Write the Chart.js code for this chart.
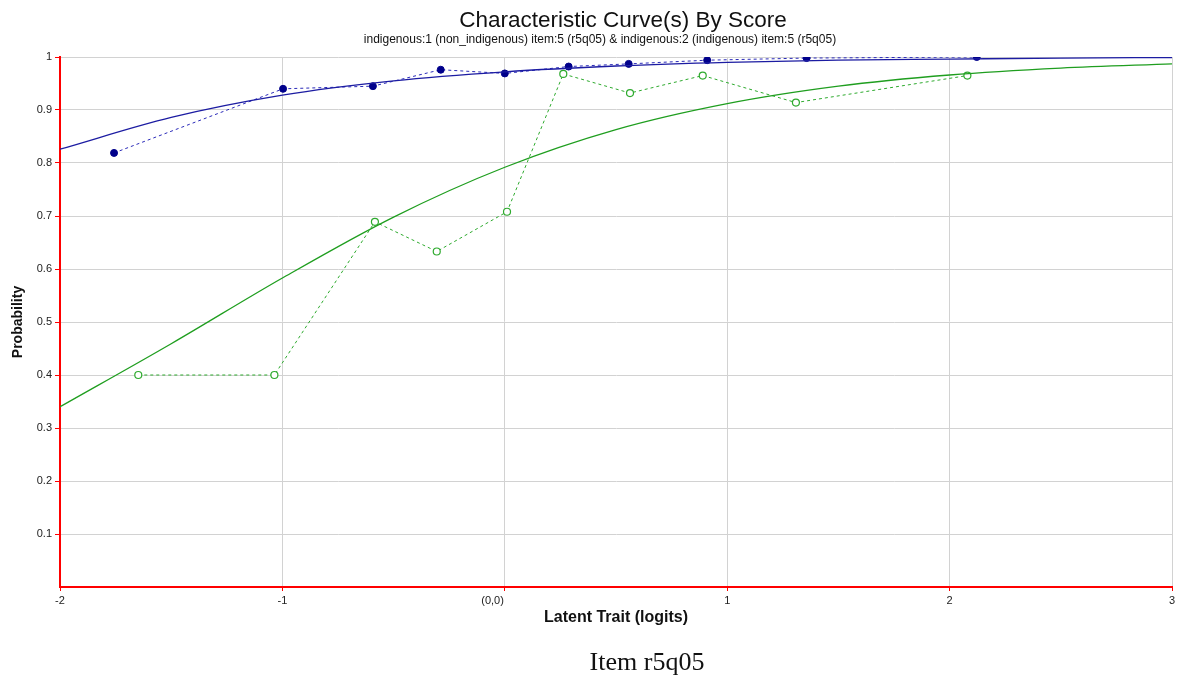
<!DOCTYPE html>
<html>
<head>
<meta charset="utf-8">
<script src="https://cdn.jsdelivr.net/npm/chart.js@4.4.1/dist/chart.umd.min.js"></script>
<style>
  html, body { margin: 0; padding: 0; background: #ffffff; }
  #wrap { position: relative; width: 1179px; height: 679px; }
  .txt { position: absolute; width: 1000px; text-align: center; white-space: nowrap; color: #111; }
  #title { left: 123px; top: 8px; line-height: 24px; font-family: "Liberation Sans", Arial, sans-serif; font-size: 22.5px; }
  #subtitle { left: 100px; top: 32px; line-height: 14px; font-family: "Liberation Sans", Arial, sans-serif; font-size: 12px; }
  #caption { left: 147px; top: 647px; font-family: "Liberation Serif", "DejaVu Serif", serif; font-size: 26px; }
</style>
</head>
<body>
<div id="wrap">
  <canvas id="c" width="1179" height="679"></canvas>
  <div class="txt" id="title">Characteristic Curve(s) By Score</div>
  <div class="txt" id="subtitle">indigenous:1 (non_indigenous) item:5 (r5q05) &amp; indigenous:2 (indigenous) item:5 (r5q05)</div>
  <div class="txt" id="caption">Item r5q05</div>
</div>
<script>
// ---- data ----
const xTicks = [-2, -1, 0, 1, 2, 3];
const yTicks = [0.1, 0.2, 0.3, 0.4, 0.5, 0.6, 0.7, 0.8, 0.9, 1];

// model curve samples (logits vs probability)
const curveX = [-2, -1.5, -1, -0.5, 0, 0.5, 1, 1.5, 2, 2.5, 3];
const nonIndigCurve = [0.826, 0.886, 0.928, 0.955, 0.972, 0.983, 0.990, 0.994, 0.996, 0.998, 0.999];
const indigCurve    = [0.340, 0.459, 0.583, 0.698, 0.792, 0.863, 0.912, 0.945, 0.966, 0.979, 0.987];

// observed class-interval means
const nonIndigObsX = [-1.757, -0.997, -0.593, -0.288, 0.000, 0.287, 0.557, 0.910, 1.357, 2.122];
const nonIndigObsY = [0.819, 0.940, 0.945, 0.976, 0.969, 0.982, 0.987, 0.994, 0.998, 1.000];
const indigObsX = [-1.648, -1.036, -0.584, -0.306, 0.010, 0.263, 0.563, 0.890, 1.309, 2.080];
const indigObsY = [0.400, 0.400, 0.689, 0.633, 0.708, 0.968, 0.932, 0.965, 0.914, 0.965];

const pts = (xs, ys) => xs.map((x, i) => ({ x: x, y: ys[i] }));

const BLUE = '#1c1ca2';
const BLUE_PT = '#00008b';
const GREEN = '#1f9e1f';
const GREEN_DASH = '#2eaa2e';

new Chart(document.getElementById('c'), {
  type: 'scatter',
  data: {
    datasets: [
      { label: 'indigenous model', data: pts(curveX, indigCurve), showLine: true,
        borderColor: GREEN, borderWidth: 1.3, pointRadius: 0, cubicInterpolationMode: 'monotone', fill: false },
      { label: 'non_indigenous model', data: pts(curveX, nonIndigCurve), showLine: true,
        borderColor: BLUE, borderWidth: 1.3, pointRadius: 0, cubicInterpolationMode: 'monotone', fill: false },
      { label: 'indigenous observed', data: pts(indigObsX, indigObsY), showLine: true,
        borderColor: GREEN_DASH, borderWidth: 1, borderDash: [3, 3], tension: 0,
        pointRadius: 3.5, pointBackgroundColor: '#ffffff', pointBorderColor: GREEN_DASH, pointBorderWidth: 1.2 },
      { label: 'non_indigenous observed', data: pts(nonIndigObsX, nonIndigObsY), showLine: true,
        borderColor: '#2a2ab8', borderWidth: 1, borderDash: [3, 3], tension: 0,
        pointRadius: 3.5, pointBackgroundColor: BLUE_PT, pointBorderColor: BLUE_PT, pointBorderWidth: 1 }
    ]
  },
  options: {
    responsive: false,
    animation: false,
    devicePixelRatio: 1,
    layout: { padding: { left: 0, right: 7, top: 57, bottom: 52 } },
    plugins: {
      legend: { display: false },
      tooltip: { enabled: false }
    },
    scales: {
      x: {
        type: 'linear', min: -2, max: 3,
        afterBuildTicks: (s) => { s.ticks = xTicks.map(v => ({ value: v })); },
        afterFit: (s) => { s.height = 40; },
        ticks: { color: '#222', font: { family: '"Liberation Sans", Arial, sans-serif', size: 11 }, padding: 3,
          maxRotation: 0, autoSkip: false,
          callback: (v) => v === 0 ? '(0,0)' + ' '.repeat(8) : String(v) },
        grid: { color: '#d2d2d2', lineWidth: 1, tickColor: '#ff0000', tickLength: 4, drawTicks: true },
        border: { color: '#ff0000', width: 2 },
        title: { display: true, text: 'Latent Trait (logits)', color: '#111',
          font: { family: '"Liberation Sans", Arial, sans-serif', size: 16, weight: 'bold' },
          padding: { top: 0, bottom: 0 } }
      },
      y: {
        type: 'linear', min: 0, max: 1,
        afterBuildTicks: (s) => { s.ticks = yTicks.map(v => ({ value: v })); },
        afterFit: (s) => { s.width = 60; },
        ticks: { color: '#222', font: { family: '"Liberation Sans", Arial, sans-serif', size: 11 }, padding: 3,
          autoSkip: false,
          callback: (v) => String(Math.round(v * 10) / 10) },
        grid: { color: '#d2d2d2', lineWidth: 1, tickColor: '#ff0000', tickLength: 5, drawTicks: true },
        border: { color: '#ff0000', width: 2 },
        title: { display: true, text: 'Probability', color: '#111',
          font: { family: '"Liberation Sans", Arial, sans-serif', size: 14, weight: 'bold' },
          padding: { top: 10, bottom: 0 } }
      }
    }
  }
});
</script>
</body>
</html>
